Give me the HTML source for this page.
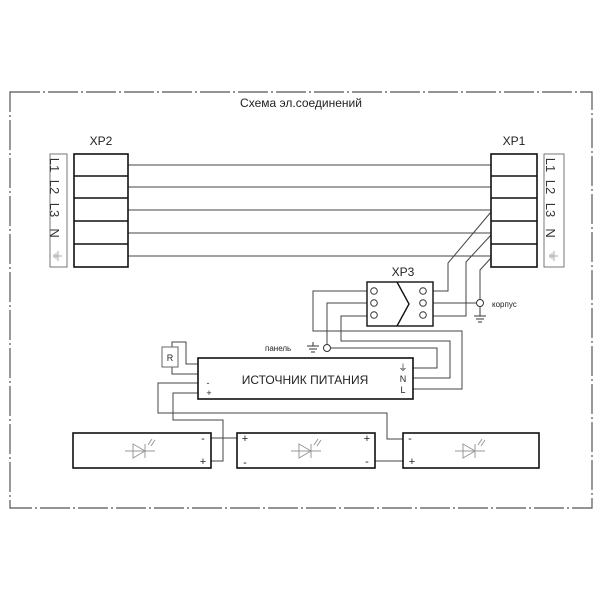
<!DOCTYPE html>
<html><head><meta charset="utf-8"><style>
html,body{margin:0;padding:0;background:#fff;}
svg{display:block;}
text{font-family:"Liberation Sans",sans-serif;}
</style></head><body>
<svg width="600" height="600" viewBox="0 0 600 600" xmlns="http://www.w3.org/2000/svg">
<rect width="600" height="600" fill="#fff"/>
<rect x="10" y="92" width="582" height="416" fill="none" stroke="#555" stroke-width="1.2" stroke-dasharray="30,3,2,3"/>
<text x="301" y="107" font-size="12" text-anchor="middle" fill="#222">Схема эл.соединений</text>

<g stroke="#444" stroke-width="1" fill="none">
<line x1="128" y1="165" x2="491" y2="165"/>
<line x1="128" y1="187" x2="491" y2="187"/>
<line x1="128" y1="210" x2="491" y2="210"/>
<line x1="128" y1="233" x2="491" y2="233"/>
<line x1="128" y1="256" x2="491" y2="256"/>
<polyline points="491,212 448,263 448,291 433,291"/>
<polyline points="491,235 466,262 466,316 433,316"/>
<polyline points="491,258 480,270 480,299"/>
<line x1="433" y1="303" x2="476" y2="303"/>
<polyline points="367,291 313,291 313,331 462,331 462,389 413,389"/>
<polyline points="367,303 327,303 327,344"/>
<polyline points="367,316 341,316 341,341 450,341 450,378 413,378"/>
<polyline points="331,348 437,348 437,368 413,368"/>
<polyline points="172,347 172,342 186,342 186,364 198,364"/>
<polyline points="172,367 172,374 198,374"/>
<polyline points="198,383 158,383 158,413 387,413 387,439 403,439"/>
<polyline points="198,393 173,393 173,420 223,420 223,461 211,461"/>
<line x1="211" y1="438" x2="237" y2="438"/>
<line x1="375" y1="461" x2="403" y2="461"/>
</g>

<g stroke="#111" stroke-width="1.6" fill="#fff">
<rect x="74" y="154" width="54" height="113"/>
<line x1="74" y1="176" x2="128" y2="176"/>
<line x1="74" y1="198" x2="128" y2="198"/>
<line x1="74" y1="221" x2="128" y2="221"/>
<line x1="74" y1="244" x2="128" y2="244"/>
<rect x="491" y="154" width="46" height="113"/>
<line x1="491" y1="176" x2="537" y2="176"/>
<line x1="491" y1="198" x2="537" y2="198"/>
<line x1="491" y1="221" x2="537" y2="221"/>
<line x1="491" y1="244" x2="537" y2="244"/>
</g>
<rect x="50" y="154" width="17" height="113" fill="#fff" stroke="#777" stroke-width="1"/>
<rect x="544" y="154" width="20" height="113" fill="#fff" stroke="#777" stroke-width="1"/>
<g font-size="12" fill="#222">
<text x="101" y="145" text-anchor="middle">XP2</text>
<text x="514" y="145" text-anchor="middle">XP1</text>
<text x="403" y="276" text-anchor="middle">XP3</text>
</g>
<g font-size="13" fill="#333">
<text transform="translate(54,165) rotate(90)" text-anchor="middle" dy="4">L1</text>
<text transform="translate(54,187) rotate(90)" text-anchor="middle" dy="4">L2</text>
<text transform="translate(54,210) rotate(90)" text-anchor="middle" dy="4">L3</text>
<text transform="translate(54,233) rotate(90)" text-anchor="middle" dy="4">N</text>
<text transform="translate(550,165) rotate(90)" text-anchor="middle" dy="4">L1</text>
<text transform="translate(550,187) rotate(90)" text-anchor="middle" dy="4">L2</text>
<text transform="translate(550,210) rotate(90)" text-anchor="middle" dy="4">L3</text>
<text transform="translate(550,233) rotate(90)" text-anchor="middle" dy="4">N</text>
</g>
<g stroke="#aaa" stroke-width="1" fill="none">
<path d="M58,251 v10 M54,256 h8 M56,253 v6 M54,254 v4"/>
<path d="M554,251 v10 M550,256 h8 M552,253 v6 M550,254 v4"/>
</g>

<g stroke="#111" stroke-width="1.4" fill="#fff">
<rect x="367" y="282" width="66" height="44"/>
<polyline points="397,282 409,304 397,326" fill="none"/>
</g>
<g stroke="#333" stroke-width="1" fill="none">
<circle cx="374" cy="291" r="3.3"/><circle cx="374" cy="303" r="3.3"/><circle cx="374" cy="315" r="3.3"/>
<circle cx="423" cy="291" r="3.3"/><circle cx="423" cy="303" r="3.3"/><circle cx="423" cy="315" r="3.3"/>
<circle cx="480" cy="303" r="3.5"/>
<path d="M480,307 v9 M474,316 h12 M476,319 h8 M478,322 h4"/>
<circle cx="327" cy="348" r="3.5"/>
<path d="M313,342 v4 M307,346 h12 M309,349 h8 M311,352 h4"/>
</g>
<text x="492" y="307" font-size="8" fill="#222">корпус</text>
<text x="265" y="351" font-size="8" fill="#222">панель</text>

<rect x="198" y="358" width="215" height="41" fill="#fff" stroke="#111" stroke-width="1.6"/>
<text x="305" y="384" font-size="12" text-anchor="middle" fill="#222">ИСТОЧНИК ПИТАНИЯ</text>
<g font-size="9" fill="#222" text-anchor="middle">
<text x="403" y="371">⏚</text>
<text x="403" y="382">N</text>
<text x="403" y="393">L</text>
<text x="208" y="386">-</text>
<text x="209" y="396">+</text>
</g>
<rect x="162" y="347" width="16" height="20" fill="#fff" stroke="#666" stroke-width="1"/>
<text x="170" y="361" font-size="9" text-anchor="middle" fill="#222">R</text>

<g stroke="#111" stroke-width="1.6" fill="#fff">
<rect x="73" y="433" width="138" height="35"/>
<rect x="237" y="433" width="138" height="35"/>
<rect x="403" y="433" width="136" height="35"/>
</g>
<g font-size="11" fill="#222" text-anchor="middle">
<text x="203" y="442">-</text><text x="203" y="465">+</text>
<text x="245" y="442">+</text><text x="245" y="466">-</text>
<text x="367" y="442">+</text><text x="367" y="465">-</text>
<text x="410" y="442">-</text><text x="412" y="465">+</text>
</g>
<g stroke="#999" stroke-width="1" fill="none">
<g transform="translate(140,451)">
<path d="M-15,0 H15 M-7,-7 L5,0 L-7,7 Z M5,-7 V7 M8,-6 L12,-12 M11,-5 L15,-11"/>
</g>
<g transform="translate(306,451)">
<path d="M-15,0 H15 M-7,-7 L5,0 L-7,7 Z M5,-7 V7 M8,-6 L12,-12 M11,-5 L15,-11"/>
</g>
<g transform="translate(470,451)">
<path d="M-15,0 H15 M-7,-7 L5,0 L-7,7 Z M5,-7 V7 M8,-6 L12,-12 M11,-5 L15,-11"/>
</g>
</g>
</svg>
</body></html>
